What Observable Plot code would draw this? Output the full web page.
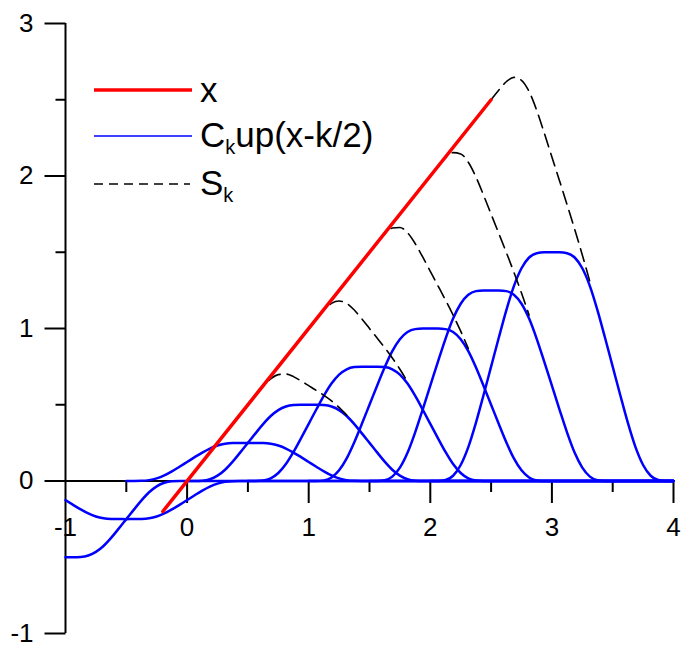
<!DOCTYPE html>
<html><head><meta charset="utf-8">
<script src="https://cdn.jsdelivr.net/npm/d3@7"></script>
<script src="https://cdn.jsdelivr.net/npm/@observablehq/plot@0.6"></script>
<style>
html,body{margin:0;padding:0;background:#fff;}
#wrap{position:relative;width:681px;height:647px;font-family:"Liberation Sans",Arial,sans-serif;}
#legend{position:absolute;left:0;top:0;pointer-events:none;}
</style></head><body>
<div id="wrap"></div>
<script>
// ---------- data ----------
// profile of up(t) read off the tallest bump (normalised), t = offset from bump centre
const upOffsets = [-1,-0.9375,-0.875,-0.8125,-0.75,-0.6875,-0.625,-0.5625,-0.5,-0.4375,-0.375,-0.3125,-0.25,-0.1875,-0.125,-0.0625,0,
                   0.0625,0.125,0.1875,0.25,0.3125,0.375,0.4375,0.5,0.5625,0.625,0.6875,0.75,0.8125,0.875,0.9375,1];
const upValues  = [0,0.0001,0.004,0.023,0.07,0.148,0.254,0.375,0.5,0.625,0.746,0.852,0.93,0.977,0.996,0.9999,1,
                   0.9999,0.996,0.977,0.93,0.852,0.746,0.625,0.5,0.375,0.254,0.148,0.07,0.023,0.004,0.0001,0];
// bumps C_k up(x-k/2)
const bumpK       = [-2,-1,1,2,3,4,5,6];
const bumpCenters = [-1,-0.5,0.5,1,1.5,2,2.5,3];
const bumpHeights = [-0.5,-0.25,0.25,0.5,0.75,1,1.25,1.5];

// the line x
const redX = [-0.2, 2.5];
const redY = [-0.2, 2.5];

// partial sums S_k (dashed), where they leave the line / join the bumps
const s2X = [0.5625,0.625,0.6875,0.75,0.8125,0.875,0.9375,1,1.0625,1.125,1.1875,1.25,1.3125];
const s2Y = [0.5625,0.622,0.670,0.6975,0.7015,0.6845,0.656,0.625,0.594,0.5615,0.5255,0.4825,0.432];
const s3X = [1.0625,1.125,1.1875,1.25,1.3125,1.375,1.4375,1.5,1.5625,1.625,1.6875,1.75,1.8125];
const s3Y = [1.063,1.121,1.1645,1.18,1.165,1.121,1.0625,1.0,0.9375,0.874,0.807,0.7325,0.6505];
const s4X = [1.5625,1.625,1.6875,1.75,1.8125,1.875,1.9375,2,2.0625,2.125,2.1875,2.25,2.3125];
const s4Y = [1.5625,1.62,1.659,1.6625,1.6275,1.5575,1.469,1.375,1.281,1.1865,1.088,0.9825,0.869];
const s5X = [2.0625,2.125,2.1875,2.25,2.3125,2.375,2.4375,2.5,2.5625,2.625,2.6875,2.75,2.8125];
const s5Y = [2.062,2.119,2.153,2.145,2.09,1.994,1.875,1.75,1.625,1.499,1.369,1.2325,1.088];
const s6X = [2.5,2.5625,2.625,2.6875,2.75,2.8125,2.875,2.9375,3,3.0625,3.125,3.1875,3.25,3.3125];
const s6Y = [2.5,2.5625,2.618,2.647,2.6275,2.5535,2.4305,2.281,2.125,1.969,1.8115,1.6505,1.4825,1.307];

// axes
const xMajorTicks = [-1,0,1,2,3,4];
const xMinorTicks = [-0.5,0.5,1.5,2.5,3.5];
const yMajorTicks = [-1,0,1,2,3];
const yMinorTicks = [0.5,1.5,2.5];

// legend
const legendLabels = ["x", "C", "S"];

// ---------- tables for Plot ----------
const xMin = d3.min(xMajorTicks), xMax = d3.max(xMajorTicks);
const yMin = d3.min(yMajorTicks), yMax = d3.max(yMajorTicks);

const blueRows = [];
bumpK.forEach((k, i) => {
  upOffsets.forEach((t, j) => {
    const x = bumpCenters[i] + t;
    if (x >= xMin) blueRows.push({k, x, y: bumpHeights[i] * upValues[j]});
  });
  blueRows.push({k, x: xMax, y: 0});
});

const dashRows = [];
[[2,s2X,s2Y],[3,s3X,s3Y],[4,s4X,s4Y],[5,s5X,s5Y],[6,s6X,s6Y]].forEach(([k,xs,ys]) =>
  xs.forEach((x, i) => dashRows.push({k, x, y: ys[i]})));

const redRows = redX.map((x, i) => ({x, y: redY[i]}));

// tick symbols (length in px = r)
const tickDown = {draw(ctx, size) { const l = Math.sqrt(size / Math.PI); ctx.moveTo(0, 0); ctx.lineTo(0, l); }};
const tickLeft = {draw(ctx, size) { const l = Math.sqrt(size / Math.PI); ctx.moveTo(0, 0); ctx.lineTo(-l, 0); }};

const font = "'Liberation Sans', Arial, sans-serif";

const chart = Plot.plot({
  width: 681, height: 647,
  marginLeft: 65, marginRight: 8, marginTop: 23, marginBottom: 14,
  x: {domain: [xMin, xMax], axis: null},
  y: {domain: [yMin, yMax], axis: null},
  style: {fontFamily: font, background: "white", color: "black"},
  marks: [
    Plot.ruleY([0], {x1: xMin, x2: xMax, stroke: "black", strokeWidth: 2}),
    Plot.ruleX([xMin], {y1: yMin, y2: yMax, stroke: "black", strokeWidth: 2}),
    Plot.dot(xMajorTicks.filter(d => d !== xMin), {x: d => d, y: 0, symbol: tickDown, r: 22, fill: "none", stroke: "black", strokeWidth: 2}),
    Plot.dot(xMinorTicks, {x: d => d, y: 0, symbol: tickDown, r: 11, fill: "none", stroke: "black", strokeWidth: 2}),
    Plot.dot(yMajorTicks, {x: xMin, y: d => d, symbol: tickLeft, r: 21, fill: "none", stroke: "black", strokeWidth: 2}),
    Plot.dot(yMinorTicks, {x: xMin, y: d => d, symbol: tickLeft, r: 10, fill: "none", stroke: "black", strokeWidth: 2}),
    Plot.text(xMajorTicks, {x: d => d, y: 0, text: d => String(d), dy: 47, fontSize: 26, textAnchor: "middle", fill: "black"}),
    Plot.text(yMajorTicks, {x: xMin, y: d => d, text: d => String(d), dx: -32, fontSize: 26, textAnchor: "end", fill: "black"}),
    Plot.line(blueRows, {x: "x", y: "y", z: "k", stroke: "#0000ff", strokeWidth: 2.5, curve: "monotone-x"}),
    Plot.line(dashRows, {x: "x", y: "y", z: "k", stroke: "black", strokeWidth: 1.6, strokeDasharray: "13,7", curve: "monotone-x"}),
    Plot.line(redRows, {x: "x", y: "y", stroke: "#ff0000", strokeWidth: 3.5})
  ]
});

const wrap = document.getElementById("wrap");
wrap.appendChild(chart);

// ---------- legend overlay ----------
const svg = d3.select(wrap).append("svg").attr("id", "legend").attr("width", 681).attr("height", 647)
  .style("font-family", font);
svg.append("line").attr("x1", 94).attr("x2", 192).attr("y1", 90).attr("y2", 90).attr("stroke", "#ff0000").attr("stroke-width", 3.5);
svg.append("line").attr("x1", 94).attr("x2", 192).attr("y1", 136).attr("y2", 136).attr("stroke", "#4040ff").attr("stroke-width", 2);
svg.append("line").attr("x1", 94).attr("x2", 190).attr("y1", 184).attr("y2", 184).attr("stroke", "black").attr("stroke-width", 1.5).attr("stroke-dasharray", "9,6");

svg.append("text").attr("x", 200).attr("y", 101.5).attr("font-size", 35).text(legendLabels[0]);
const t2 = svg.append("text").attr("x", 200).attr("y", 147).attr("font-size", 35);
t2.append("tspan").text(legendLabels[1]);
t2.append("tspan").attr("font-size", 20).attr("dy", 7).text("k");
t2.append("tspan").attr("font-size", 35).attr("dy", -7).text("up(x-k/2)");
const t3 = svg.append("text").attr("x", 200).attr("y", 195).attr("font-size", 35);
t3.append("tspan").text(legendLabels[2]);
t3.append("tspan").attr("font-size", 20).attr("dy", 7).text("k");
</script>
</body></html>
